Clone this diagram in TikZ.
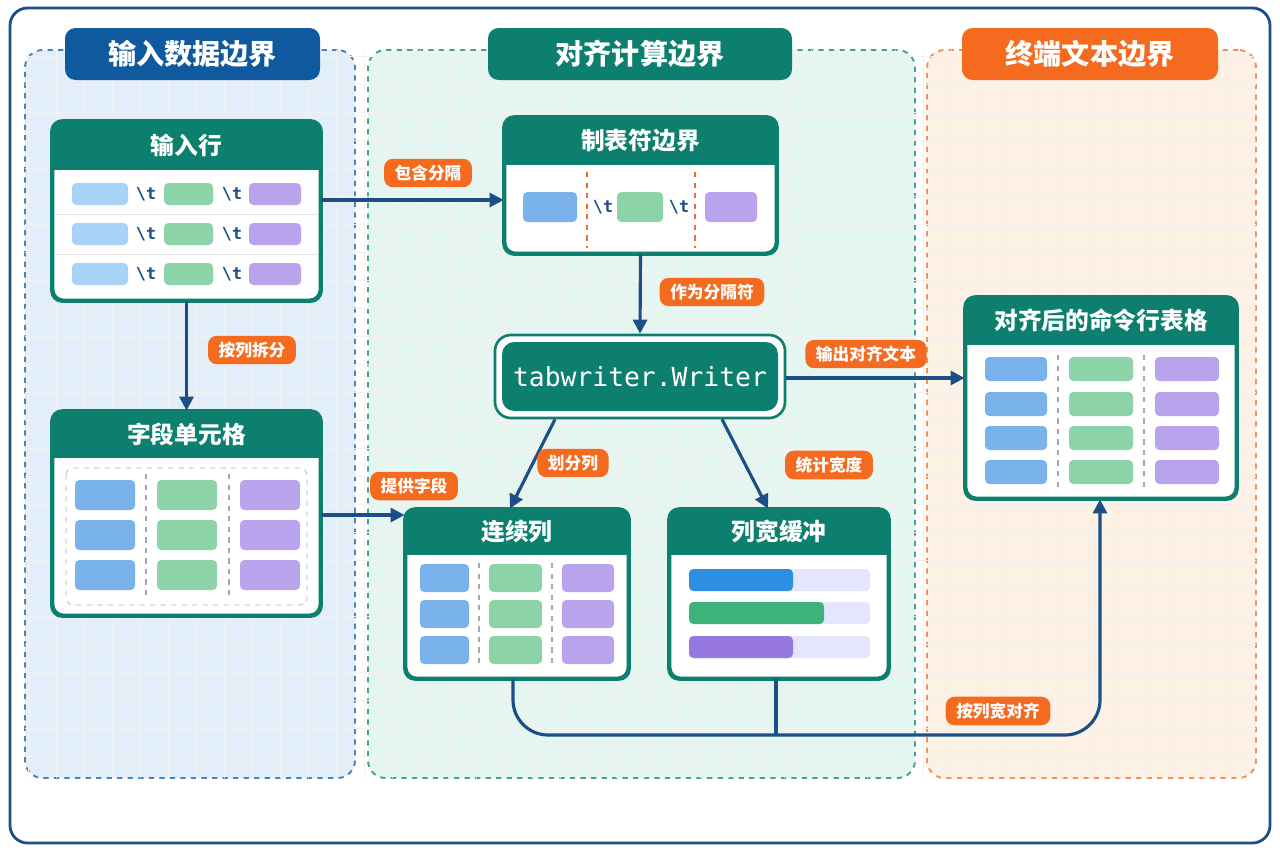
\documentclass[tikz,border=0pt]{standalone}
\usepackage{fontspec}
\setmainfont{Noto Sans CJK SC}
\newfontfamily\monofont{DejaVu Sans Mono}
\usetikzlibrary{positioning,fit,arrows.meta,calc}
\definecolor{navy}{HTML}{1B4F86}
\definecolor{zblue}{HTML}{0F5A9E}
\definecolor{zteal}{HTML}{0D7F6E}
\definecolor{zorange}{HTML}{F46A1F}
\definecolor{cblue}{HTML}{7AB2EC}
\definecolor{clblue}{HTML}{A9D2F7}
\definecolor{cgreen}{HTML}{8CD3A8}
\definecolor{cpurple}{HTML}{B9A3EC}
\definecolor{bblue}{HTML}{2C8FE0}
\definecolor{bgreen}{HTML}{3DB37A}
\definecolor{bpurple}{HTML}{9678E0}
\definecolor{fblue}{HTML}{E2EFFB}
\definecolor{fgreen}{HTML}{E4F6EF}
\definecolor{forange}{HTML}{FDF0E4}
\tikzstyle{zone} = [draw, dashed, line width=1.1pt, rounded corners=10pt, inner sep=0pt]
\tikzstyle{ztitle} = [rounded corners=6pt, inner sep=0pt, text=white, font=\fontsize{16}{19}\selectfont\bfseries]
\tikzstyle{card} = [draw=zteal, line width=1.6pt, fill=white, rounded corners=6pt, inner sep=0pt]
\tikzstyle{head} = [text=white, font=\fontsize{13.5}{16}\selectfont\bfseries]
\tikzstyle{cell} = [rounded corners=2.5pt, inner sep=0pt]
\tikzstyle{tab} = [text=navy, font=\monofont\bfseries\fontsize{9.5}{11}\selectfont]
\tikzstyle{lbl} = [fill=zorange, text=white, rounded corners=5pt, inner xsep=6pt, inner ysep=3.5pt, font=\fontsize{9.5}{11}\selectfont\bfseries]
\tikzstyle{arrow} = [navy, line width=1.8pt, -{Triangle[length=8pt,width=8pt]}]
\tikzstyle{sep} = [dashed, thick]
\newcommand{\cardhead}[3]{% name, header bottom y, title
  \begin{scope}
    \clip[rounded corners=6pt] (#1.north west) rectangle (#1.south east);
    \fill[zteal] (#1.north west) rectangle (#1.east |- 0,#2);
  \end{scope}
  \draw[zteal, line width=1.6pt, rounded corners=6pt] (#1.north west) rectangle (#1.south east);
  \node[head] at ($(#1.north)!0.5!(#1.north |- 0,#2)$) {#3};}
\begin{document}
\begin{tikzpicture}[x=0.02cm, y=-0.02cm]
\useasboundingbox (0,0) rectangle (1280,853);
\fill[white] (0,0) rectangle (1280,853);
\draw[navy, line width=1.6pt, rounded corners=10pt] (10,8) rectangle (1270,843);
% zones
\node (z1) [zone, draw=zblue!75, fill=fblue, fit={(25,50)(355,778)}] {};
\node (z2) [zone, draw=zteal!75, fill=fgreen, fit={(368,50)(915,778)}] {};
\node (z3) [zone, draw=zorange!75, fill=forange, fit={(927,50)(1256,778)}] {};
\begin{scope}
\clip (25,50) rectangle (1256,778);
\draw[gray!10, step=0.56cm] (25,50) grid (1256,778);
\end{scope}
\node (t1) [ztitle, fill=zblue, fit={(65,28)(320,80)}] {};
\node at (t1) [ztitle] {输入数据边界};
\node (t2) [ztitle, fill=zteal, fit={(488,28)(792,80)}] {};
\node at (t2) [ztitle] {对齐计算边界};
\node (t3) [ztitle, fill=zorange, fit={(962,28)(1218,80)}] {};
\node at (t3) [ztitle] {终端文本边界};
% input rows
\node (in) [card, fit={(53,122)(320,300)}] {};
\cardhead{in}{170}{输入行}
\draw[gray!20] (55,214) -- (318,214) (55,254) -- (318,254);
\foreach \y in {194,234,274} {
  \fill[clblue, cell] (72,\y-11) rectangle (128,\y+11);
  \fill[cgreen, cell] (164,\y-11) rectangle (213,\y+11);
  \fill[cpurple, cell] (249,\y-11) rectangle (301,\y+11);
  \node[tab] at (146,\y) {\textbackslash t};
  \node[tab] at (232,\y) {\textbackslash t};
}
% field cells
\node (fc) [card, fit={(53,412)(320,615)}] {};
\cardhead{fc}{458}{字段单元格}
\draw[gray!60, dashed, rounded corners=4pt] (66,468) rectangle (307,605);
\draw[gray!70, sep] (146,474) -- (146,600) (229,474) -- (229,600);
\foreach \y in {495,535,575} {
  \fill[cblue, cell] (75,\y-15) rectangle (135,\y+15);
  \fill[cgreen, cell] (157,\y-15) rectangle (217,\y+15);
  \fill[cpurple, cell] (240,\y-15) rectangle (300,\y+15);
}
% tab boundary
\node (tb) [card, fit={(505,118)(776,253)}] {};
\cardhead{tb}{165}{制表符边界}
\fill[cblue, cell] (523,192) rectangle (577,222);
\fill[cgreen, cell] (617,192) rectangle (663,222);
\fill[cpurple, cell] (705,192) rectangle (757,222);
\draw[zorange, sep] (587,172) -- (587,248) (695,172) -- (695,248);
\node[tab] at (603,207) {\textbackslash t};
\node[tab] at (679,207) {\textbackslash t};
% writer
\node (wr) [fit={(495,335)(785,418)}, inner sep=0pt, draw=zteal, line width=1.5pt, fill=white, rounded corners=9pt] {};
\fill[zteal, rounded corners=7pt] (502,342) rectangle (778,411);
\node at (wr) [text=white, font=\monofont\fontsize{15}{18}\selectfont] {tabwriter.Writer};
% columns
\node (cc) [card, fit={(406,510)(628,678)}] {};
\cardhead{cc}{555}{连续列}
\draw[gray!70, sep] (479,563) -- (479,666) (552,563) -- (552,666);
\foreach \y in {578,614,650} {
  \fill[cblue, cell] (420,\y-14) rectangle (469,\y+14);
  \fill[cgreen, cell] (489,\y-14) rectangle (542,\y+14);
  \fill[cpurple, cell] (562,\y-14) rectangle (614,\y+14);
}
% width buffer
\node (wb) [card, fit={(670,510)(888,678)}] {};
\cardhead{wb}{555}{列宽缓冲}
\foreach \y/\c/\e in {580/bblue/793,613/bgreen/824,647/bpurple/793} {
  \fill[blue!10, cell] (689,\y-11) rectangle (870,\y+11);
  \fill[\c, cell] (689,\y-11) rectangle (\e,\y+11);
}
% aligned table
\node (at) [card, fit={(966,298)(1236,498)}] {};
\cardhead{at}{345}{对齐后的命令行表格}
\draw[gray!70, sep] (1058,355) -- (1058,488) (1144,355) -- (1144,488);
\foreach \y in {369,404,438,472} {
  \fill[cblue, cell] (985,\y-12) rectangle (1047,\y+12);
  \fill[cgreen, cell] (1069,\y-12) rectangle (1133,\y+12);
  \fill[cpurple, cell] (1155,\y-12) rectangle (1219,\y+12);
}
% connectors
\coordinate (join) at (776,735);
\draw[arrow] (in.east |- 0,200) -- (tb.west |- 0,200);
\draw[arrow] (in.south) -- (fc.north);
\draw[arrow] (tb.south) -- (wr.north);
\draw[arrow] (wr.east |- 0,378) -- (at.west |- 0,378);
\draw[arrow] (wr.south -| 555,0) -- (cc.north -| 510,0);
\draw[arrow] (wr.south -| 722,0) -- (wb.north -| 768,0);
\draw[arrow] (fc.east |- 0,515) -- (cc.west |- 0,515);
\draw[arrow, rounded corners=20pt] (cc.south -| 513,0) -- (513,735) -- (1100,735) -- (at.south -| 1100,0);
\draw[navy, line width=1.8pt] (wb.south -| 776,0) -- (join);
% labels
\node[lbl] at (428,173) {包含分隔};
\node[lbl] at (252,350) {按列拆分};
\node[lbl] at (712,292) {作为分隔符};
\node[lbl] at (866,354) {输出对齐文本};
\node[lbl] at (573,463) {划分列};
\node[lbl] at (829,465) {统计宽度};
\node[lbl] at (414,486) {提供字段};
\node[lbl] at (998,711) {按列宽对齐};
\end{tikzpicture}
\end{document}
